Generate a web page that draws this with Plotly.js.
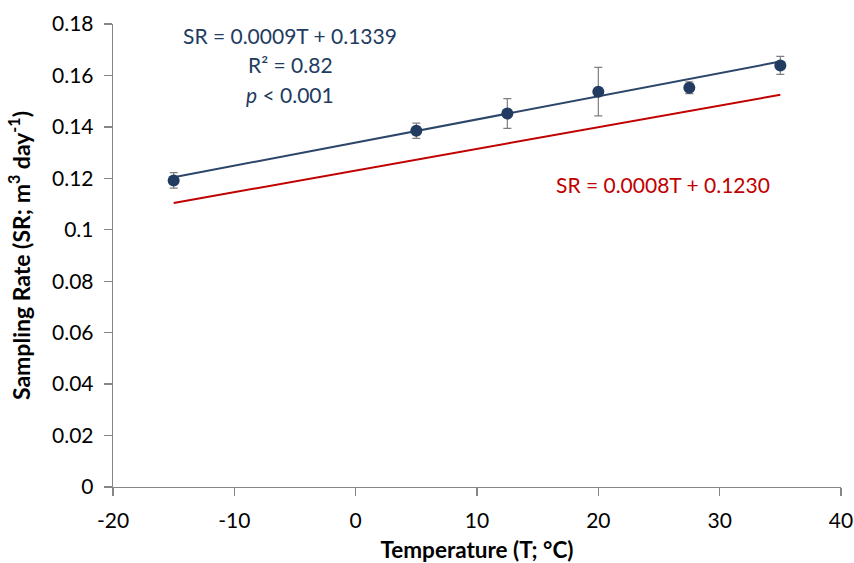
<!DOCTYPE html>
<html>
<head>
<meta charset="utf-8">
<script src="https://cdn.plot.ly/plotly-3.0.1.min.js"></script>
<style>html,body{margin:0;padding:0;background:#fff}#chart{width:854px;height:563px}</style>
</head>
<body>
<div id="chart"></div>
<script>
// Measured data
const temperature = [-15, 5, 12.5, 20, 27.5, 35];
const samplingRate = [0.1192, 0.1385, 0.1452, 0.1537, 0.1552, 0.1639];
const errorSR = [0.003, 0.003, 0.0058, 0.0094, 0.0023, 0.0035];
// Trend lines (end points)
const trendX = [-15, 35];
const blueFit = [0.1204, 0.1654];
const redFit = [0.1104, 0.1525];
// Axis ticks
const xTicks = [-20, -10, 0, 10, 20, 30, 40];
const yTicks = [0, 0.02, 0.04, 0.06, 0.08, 0.1, 0.12, 0.14, 0.16, 0.18];
const yTickText = ['0', '0.02', '0.04', '0.06', '0.08', '0.1', '0.12', '0.14', '0.16', '0.18'];

const navy = '#213B61';
const red = '#C00000';
const FONT = 'Lato, "Open Sans", "Liberation Sans", sans-serif';

const traces = [
  {x: trendX, y: blueFit, mode: 'lines', line: {color: '#2B4669', width: 2}, hoverinfo: 'skip'},
  {x: trendX, y: redFit, mode: 'lines', line: {color: red, width: 2}, hoverinfo: 'skip'},
  {x: temperature, y: samplingRate, mode: 'markers',
   marker: {color: navy, size: 12},
   error_y: {type: 'data', array: errorSR, visible: true, color: '#7F7F7F', thickness: 1.2, width: 4}}
];

const layout = {
  width: 854, height: 563,
  margin: {l: 113, r: 13, t: 24, b: 76},
  paper_bgcolor: '#fff', plot_bgcolor: '#fff',
  showlegend: false,
  font: {family: FONT, size: 21, color: '#000'},
  xaxis: {
    range: [-20, 40], tickvals: xTicks, ticktext: xTicks.map(String),
    showgrid: false, zeroline: false, showline: true, linecolor: '#868686', linewidth: 1.3,
    ticks: 'outside', ticklen: 8, tickcolor: '#868686', tickwidth: 1.3,
    ticklabelstandoff: 6,
    tickfont: {family: FONT, size: 21, color: '#000'},
    title: {text: '<b>Temperature (T; °C)</b>', font: {family: FONT, size: 22.5, color: '#000'}, standoff: 11}
  },
  yaxis: {
    range: [0, 0.18], tickvals: yTicks, ticktext: yTickText,
    showgrid: false, zeroline: false, showline: true, linecolor: '#868686', linewidth: 1.3,
    ticks: 'outside', ticklen: 8, tickcolor: '#868686', tickwidth: 1.3,
    ticklabelstandoff: 6,
    tickfont: {family: FONT, size: 21, color: '#000'},
    title: {text: '<b>Sampling Rate (SR; m<sup>3</sup> day<sup>-1</sup>)</b>', font: {family: FONT, size: 23, color: '#000'}, standoff: 15}
  },
  annotations: [
    {xref: 'paper', yref: 'paper', x: (290 - 113) / 728, y: (487 - 35) / 463.5, text: 'SR = 0.0009T + 0.1339', showarrow: false, font: {family: FONT, size: 21, color: navy}, xanchor: 'center', yanchor: 'middle'},
    {xref: 'paper', yref: 'paper', x: (290 - 113) / 728, y: (487 - 64) / 463.5, text: 'R² = 0.82', showarrow: false, font: {family: FONT, size: 21, color: navy}, xanchor: 'center', yanchor: 'middle'},
    {xref: 'paper', yref: 'paper', x: (290 - 113) / 728, y: (487 - 94) / 463.5, text: '<i>p</i> < 0.001', showarrow: false, font: {family: FONT, size: 21, color: navy}, xanchor: 'center', yanchor: 'middle'},
    {xref: 'paper', yref: 'paper', x: (663 - 113) / 728, y: (487 - 184) / 463.5, text: 'SR = 0.0008T + 0.1230', showarrow: false, font: {family: FONT, size: 21, color: red}, xanchor: 'center', yanchor: 'middle'}
  ]
};

Plotly.newPlot('chart', traces, layout, {displayModeBar: false, staticPlot: true});
</script>
</body>
</html>
